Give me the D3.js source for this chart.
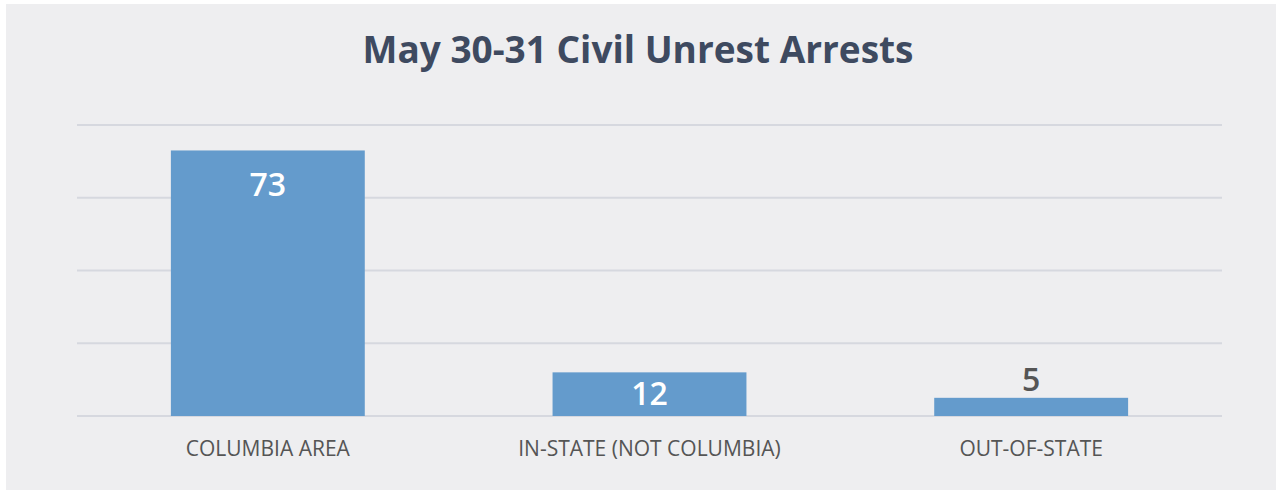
<!DOCTYPE html>
<html>
<head>
<meta charset="utf-8">
<script src="https://cdn.jsdelivr.net/npm/d3@7"></script>
<style>
  html, body { margin: 0; padding: 0; background: #ffffff; }
  svg { display: block; font-family: 'Open Sans', sans-serif; }
</style>
</head>
<body>
<div id="chart"></div>
<script>
const title = 'May 30-31 Civil Unrest Arrests';
const categories = ['COLUMBIA AREA', 'IN-STATE (NOT COLUMBIA)', 'OUT-OF-STATE'];
const arrests = [73, 12, 5];
const yTicks = [0, 20, 40, 60, 80];

const width = 1276;
const height = 491;
const margin = {top: 125, right: 54, bottom: 75, left: 77};

const svg = d3.select('#chart').append('svg')
    .attr('width', width)
    .attr('height', height);

// panel background
svg.append('rect')
    .attr('x', 6)
    .attr('y', 4)
    .attr('width', width - 6)
    .attr('height', height - 5)
    .attr('fill', '#eeeef0');

svg.append('text')
    .attr('x', 638)
    .attr('y', 63)
    .attr('text-anchor', 'middle')
    .style('font-size', '37px')
    .style('font-weight', 700)
    .style('fill', '#3e4a60')
    .text(title);

const xScale = d3.scaleBand()
    .domain(categories)
    .range([margin.left, width - margin.right])
    .paddingInner(0.492)
    .paddingOuter(0.246);

const yScale = d3.scaleLinear()
    .domain([0, 80])
    .range([height - margin.bottom, margin.top]);

// gridlines
svg.append('g')
    .attr('class', 'grid')
  .selectAll('line')
    .data(yTicks)
  .enter().append('line')
    .attr('x1', margin.left)
    .attr('x2', width - margin.right)
    .attr('y1', function(d) { return yScale(d); })
    .attr('y2', function(d) { return yScale(d); })
    .attr('stroke', '#d6d8df')
    .attr('stroke-width', 2);

const data = categories.map(function(c, i) { return {cat: c, value: arrests[i]}; });

svg.selectAll('.bar')
    .data(data)
  .enter().append('rect')
    .attr('class', 'bar')
    .attr('x', function(d) { return xScale(d.cat); })
    .attr('y', function(d) { return yScale(d.value); })
    .attr('width', xScale.bandwidth())
    .attr('height', function(d) { return yScale(0) - yScale(d.value); })
    .attr('fill', '#649bcc');

function barH(d) { return yScale(0) - yScale(d.value); }

// value labels: inside the bar when it fits, above it otherwise
svg.selectAll('.value')
    .data(data)
  .enter().append('text')
    .attr('class', 'value')
    .attr('x', function(d) { return xScale(d.cat) + xScale.bandwidth() / 2; })
    .attr('y', function(d) {
      const top = yScale(d.value);
      if (barH(d) > 30) return Math.min(top + 46, top + barH(d) / 2 + 11);
      return top - 7;
    })
    .attr('text-anchor', 'middle')
    .style('font-size', '32px')
    .style('font-weight', 600)
    .style('fill', function(d) { return barH(d) > 30 ? '#ffffff' : '#555555'; })
    .text(function(d) { return d.value; });

// category labels
svg.selectAll('.cat')
    .data(categories)
  .enter().append('text')
    .attr('class', 'cat')
    .attr('x', function(d) { return xScale(d) + xScale.bandwidth() / 2; })
    .attr('y', 456)
    .attr('text-anchor', 'middle')
    .style('font-size', '21px')
    .style('fill', '#555555')
    .text(function(d) { return d; });
</script>
</body>
</html>
